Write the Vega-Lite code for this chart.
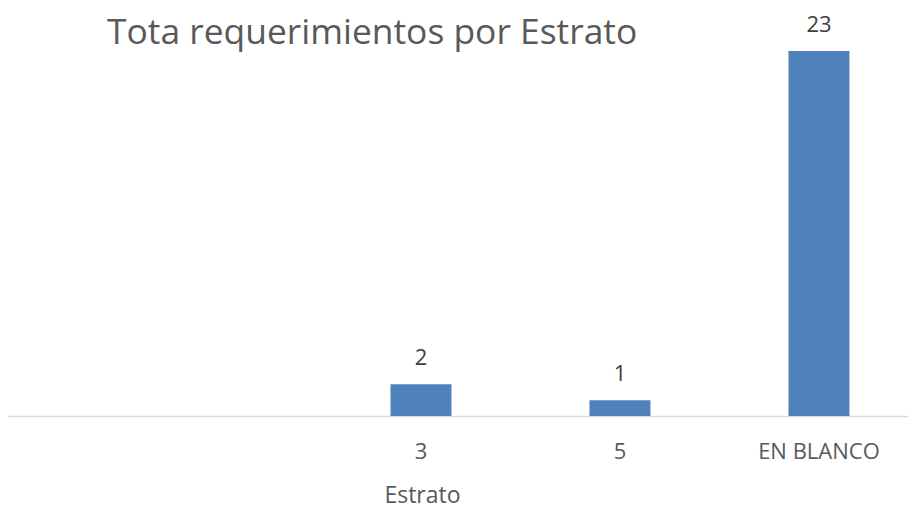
{
  "$schema": "https://vega.github.io/schema/vega-lite/v6.json",
  "autosize": {"type": "none"},
  "width": 900,
  "height": 365,
  "padding": {"left": 8, "top": 51, "right": 0, "bottom": 92},
  "background": "white",
  "title": {
    "text": "Tota requerimientos por Estrato",
    "anchor": "start",
    "frame": "group",
    "dx": 99,
    "offset": -37,
    "font": "Open Sans",
    "fontSize": 35.4,
    "fontWeight": "normal",
    "color": "#595959"
  },
  "data": {
    "values": [
      {"Estrato": "3", "Total": 2},
      {"Estrato": "5", "Total": 1},
      {"Estrato": "EN BLANCO", "Total": 23}
    ]
  },
  "config": {"view": {"stroke": null}},
  "encoding": {
    "x": {
      "field": "Estrato",
      "type": "nominal",
      "sort": null,
      "scale": {"paddingInner": 0.477, "paddingOuter": 1, "align": 0.907},
      "axis": {
        "title": "Estrato",
        "titleX": 414,
        "titleY": 79,
        "titleAlign": "center",
        "titleBaseline": "middle",
        "titleFont": "Open Sans",
        "titleFontSize": 23,
        "titleFontWeight": "normal",
        "titleColor": "#595959",
        "labelAngle": 0,
        "labelFont": "Open Sans",
        "labelFontSize": 22,
        "labelColor": "#595959",
        "labelPadding": 35,
        "labelBaseline": "middle",
        "ticks": false,
        "domainColor": "#d9d9d9",
        "domainWidth": 1.5
      }
    },
    "y": {
      "field": "Total",
      "type": "quantitative",
      "scale": {"domain": [0, 23], "nice": false},
      "axis": null
    }
  },
  "layer": [
    {"mark": {"type": "bar", "color": "#4f81bd", "width": {"band": 0.586}}},
    {
      "mark": {
        "type": "text",
        "baseline": "middle",
        "dy": -26,
        "font": "Open Sans",
        "fontSize": 22,
        "color": "#404040"
      },
      "encoding": {"text": {"field": "Total", "type": "quantitative"}}
    }
  ]
}
